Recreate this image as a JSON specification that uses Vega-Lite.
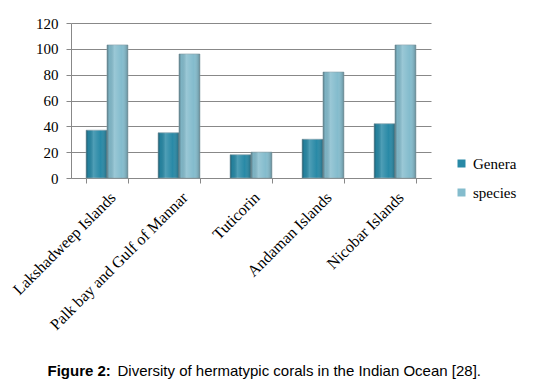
{
  "$schema": "https://vega.github.io/schema/vega-lite/v6.json",
  "autosize": {"type": "none"},
  "width": 360,
  "height": 155,
  "padding": {"left": 71, "top": 23, "right": 104, "bottom": 205},
  "background": "white",
  "data": {
    "values": [
      {"site": "Lakshadweep Islands", "series": "Genera", "value": 37},
      {"site": "Lakshadweep Islands", "series": "species", "value": 103},
      {"site": "Palk bay and Gulf of Mannar", "series": "Genera", "value": 35},
      {"site": "Palk bay and Gulf of Mannar", "series": "species", "value": 96},
      {"site": "Tuticorin", "series": "Genera", "value": 18},
      {"site": "Tuticorin", "series": "species", "value": 20},
      {"site": "Andaman Islands", "series": "Genera", "value": 30},
      {"site": "Andaman Islands", "series": "species", "value": 82},
      {"site": "Nicobar Islands", "series": "Genera", "value": 42},
      {"site": "Nicobar Islands", "series": "species", "value": 103}
    ]
  },
  "encoding": {
    "x": {
      "field": "site",
      "type": "nominal",
      "sort": null,
      "scale": {"paddingInner": 0.42, "paddingOuter": 0.21},
      "axis": {
        "title": "Diversity of hermatypic corals in the Indian Ocean [28].",
        "titleFont": "Liberation Sans",
        "titleFontSize": 15,
        "titleFontWeight": "normal",
        "titleColor": "black",
        "titleAnchor": "start",
        "titleAlign": "left",
        "titleBaseline": "alphabetic",
        "titleX": 46,
        "titleY": 197,
        "labelAngle": -45,
        "labelFont": "Liberation Serif",
        "labelFontSize": 16,
        "labelColor": "black",
        "labelPadding": 6,
        "labelLimit": 400,
        "tickBand": "extent",
        "tickSize": 5,
        "tickColor": "#888888",
        "domainColor": "#888888",
        "grid": false
      }
    },
    "xOffset": {"field": "series", "type": "nominal", "sort": ["Genera", "species"]},
    "y": {
      "field": "value",
      "type": "quantitative",
      "scale": {"domain": [0, 120], "nice": false},
      "axis": {
        "title": "Figure 2:",
        "titleFont": "Liberation Sans",
        "titleFontSize": 15,
        "titleFontWeight": "bold",
        "titleColor": "black",
        "titleAngle": 0,
        "titleAnchor": "start",
        "titleAlign": "left",
        "titleBaseline": "alphabetic",
        "titleX": -24,
        "titleY": 352,
        "values": [0, 20, 40, 60, 80, 100, 120],
        "labelFont": "Liberation Serif",
        "labelFontSize": 15,
        "labelColor": "black",
        "labelPadding": 8,
        "tickSize": 5,
        "tickColor": "#888888",
        "domainColor": "#888888",
        "gridColor": "#888888",
        "gridOpacity": 1
      }
    }
  },
  "layer": [
    {
      "mark": {"type": "bar", "stroke": "#8aa3ad", "strokeWidth": 0.7},
      "encoding": {
        "color": {
          "field": "series",
          "type": "nominal",
          "scale": {"domain": ["Genera", "species"], "range": ["#2889a6", "#84bccd"]},
          "legend": {
            "title": null,
            "orient": "none",
            "legendX": 383,
            "legendY": 133,
            "padding": 0,
            "symbolType": "square",
            "symbolSize": 64,
            "symbolStrokeWidth": 0,
            "symbolOpacity": 1,
            "labelFont": "Liberation Serif",
            "labelFontSize": 15,
            "labelColor": "black",
            "labelOffset": 4,
            "rowPadding": 13
          }
        }
      }
    },
    {
      "mark": {
        "type": "bar",
        "color": {
          "gradient": "linear", "x1": 0, "x2": 1, "y1": 0, "y2": 0,
          "stops": [
            {"offset": 0, "color": "rgba(0,0,0,0.28)"},
            {"offset": 0.12, "color": "rgba(0,0,0,0.05)"},
            {"offset": 0.35, "color": "rgba(255,255,255,0.18)"},
            {"offset": 0.7, "color": "rgba(255,255,255,0)"},
            {"offset": 1, "color": "rgba(0,0,0,0.25)"}
          ]
        }
      }
    }
  ],
  "config": {"view": {"stroke": null}}
}
